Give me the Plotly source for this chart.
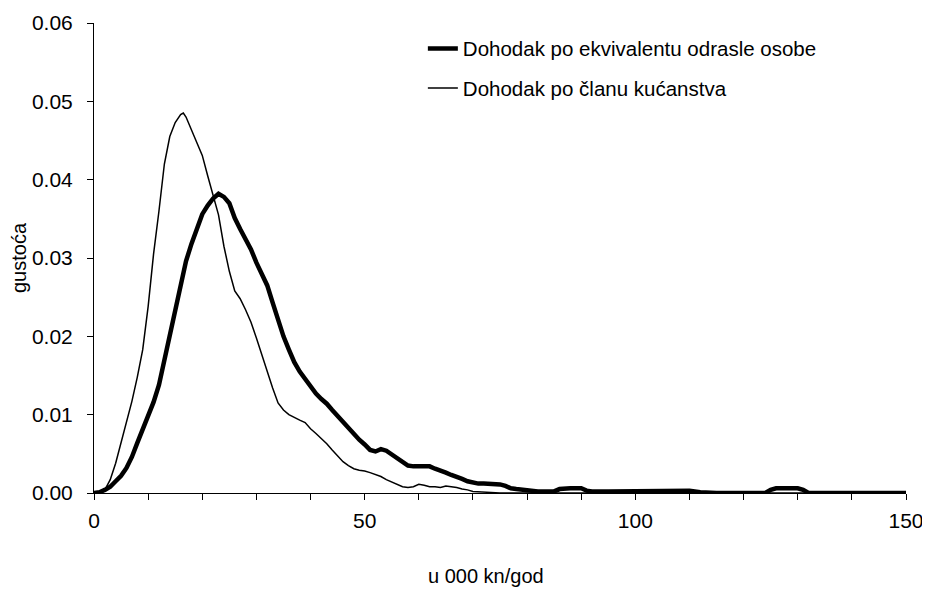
import plotly.graph_objects as go

# income, thousand kn per year
income_equiv = [0, 1, 2, 3, 4, 5, 6, 7, 8, 9, 10, 11, 12, 13, 14, 15, 16, 17, 18, 19,
                20, 21, 22, 23, 24, 25, 26, 27, 28, 29, 30, 31, 32, 33, 34, 35, 36, 37, 38, 39,
                40, 41, 42, 43, 44, 45, 46, 47, 48, 49, 50, 51, 52, 53, 54, 55, 56, 57, 58, 59,
                60, 61, 62, 63, 64, 65, 66, 67, 68, 69, 70, 71, 72, 73, 74, 75, 76, 77, 78, 79,
                80, 82, 84, 85, 86, 87, 88, 89, 90, 91, 92, 95, 100, 105, 107, 110, 112, 115,
                120, 124, 125, 126, 130, 131, 132, 140, 150]
density_equiv = [0, 0.0001, 0.0004, 0.0008, 0.0015, 0.0022, 0.0032, 0.0046, 0.0064, 0.0082,
                 0.0097, 0.0116, 0.0138, 0.0170, 0.0200, 0.0228, 0.0262, 0.0296, 0.0318, 0.0337,
                 0.0356, 0.0367, 0.0376, 0.0382, 0.0378, 0.0370, 0.0351, 0.0337, 0.0325, 0.0311,
                 0.0294, 0.0281, 0.0265, 0.0243, 0.0220, 0.0200, 0.0183, 0.0167, 0.0155, 0.0145,
                 0.0135, 0.0127, 0.0120, 0.0114, 0.0106, 0.0098, 0.0090, 0.0082, 0.0075, 0.0068,
                 0.0062, 0.0055, 0.0053, 0.0056, 0.0054, 0.0049, 0.0045, 0.0040, 0.0035, 0.0034,
                 0.0034, 0.0034, 0.0034, 0.0031, 0.0029, 0.0026, 0.0023, 0.0021, 0.0018, 0.0015,
                 0.0013, 0.0012, 0.0012, 0.0012, 0.0012, 0.0011, 0.0009, 0.0006, 0.0005, 0.0004,
                 0.0003, 0.0002, 0.0002, 0.0002, 0.0005, 0.0006, 0.0006, 0.0006, 0.0006, 0.0003,
                 0.0002, 0.0002, 0.0002, 0.0002, 0.0003, 0.0003, 0.0001, 0.0,
                 0.0, 0.0, 0.0004, 0.0006, 0.0006, 0.0004, 0.0, 0.0, 0.0]

income_member = [0, 1, 2, 3, 4, 5, 6, 7, 8, 9, 10, 11, 12, 13, 14, 15, 16, 16.5, 17, 18, 19,
                 20, 21, 22, 23, 24, 25, 26, 27, 28, 29, 30, 31, 32, 33, 34, 35, 36, 37, 38, 39,
                 40, 41, 42, 43, 44, 45, 46, 47, 48, 49, 50, 51, 52, 53, 54, 55, 56, 57, 58, 59,
                 60, 61, 62, 63, 64, 65, 66, 67, 68, 69, 70, 72, 75, 80, 150]
density_member = [0, 0.0001, 0.0004, 0.0017, 0.0038, 0.0065, 0.0090, 0.0117, 0.0148, 0.0183,
                  0.0238, 0.0305, 0.0360, 0.0420, 0.0455, 0.0473, 0.0483, 0.0485, 0.0480, 0.0464,
                  0.0448, 0.0431, 0.0405, 0.0380, 0.0355, 0.0315, 0.0283, 0.0258, 0.0248, 0.0234,
                  0.0218, 0.0198, 0.0176, 0.0155, 0.0134, 0.0115, 0.0106, 0.0100, 0.0096, 0.0093,
                  0.0090, 0.0082, 0.0076, 0.0070, 0.0063, 0.0055, 0.0047, 0.0040, 0.0035, 0.0031,
                  0.0029, 0.0028, 0.0026, 0.0024, 0.0021, 0.0017, 0.0014, 0.0011, 0.0008, 0.0007,
                  0.0008, 0.0011, 0.0010, 0.0008, 0.0008, 0.0007, 0.0009, 0.0008, 0.0007, 0.0005,
                  0.0004, 0.0002, 0.0001, 0.0, 0.0, 0.0]

label_equiv = "Dohodak po ekvivalentu odrasle osobe"
label_member = "Dohodak po članu kućanstva"
x_title = "u 000 kn/god"
y_title = "gustoća"

FONT = "Arial, Liberation Sans, sans-serif"

fig = go.Figure()
fig.add_trace(go.Scatter(
    x=income_member, y=density_member, name=label_member, mode="lines",
    line=dict(color="black", width=1.5), legendgroup="b", legendrank=2,
))
fig.add_trace(go.Scatter(
    x=income_equiv, y=density_equiv, name=label_equiv, mode="lines",
    line=dict(color="black", width=4.5), legendgroup="a", legendrank=1,
))

# x-axis title sits a bit left of centre in the original
fig.add_annotation(text=x_title, xref="paper", yref="paper", x=0.483, y=0,
                   xanchor="center", yanchor="top", yshift=-70, showarrow=False,
                   font=dict(size=20))

fig.update_layout(
    width=930, height=592,
    margin=dict(l=86, r=32, t=15, b=107),
    paper_bgcolor="white", plot_bgcolor="white",
    font=dict(family=FONT, size=21, color="black"),
    legend=dict(x=0.405, y=0.988, xanchor="left", yanchor="top",
                bgcolor="rgba(0,0,0,0)", tracegroupgap=10,
                font=dict(size=20.5)),
    xaxis=dict(
        range=[0, 150], dtick=50, showgrid=False, zeroline=False, automargin=False,
        showline=True, linecolor="black", linewidth=1,
        ticks="outside", ticklen=6, tickcolor="black",
        minor=dict(dtick=10, ticks="outside", ticklen=6, tickcolor="black"),
        ticklabelstandoff=3,
    ),
    yaxis=dict(
        range=[0, 0.06], dtick=0.01, tickformat=".2f", showgrid=False, zeroline=False,
        automargin=False,
        showline=True, linecolor="black", linewidth=1,
        ticks="outside", ticklen=6, tickcolor="black",
        ticklabelstandoff=10,
        title=dict(text=y_title, font=dict(size=20), standoff=6),
    ),
)

fig.write_html("out.html")
